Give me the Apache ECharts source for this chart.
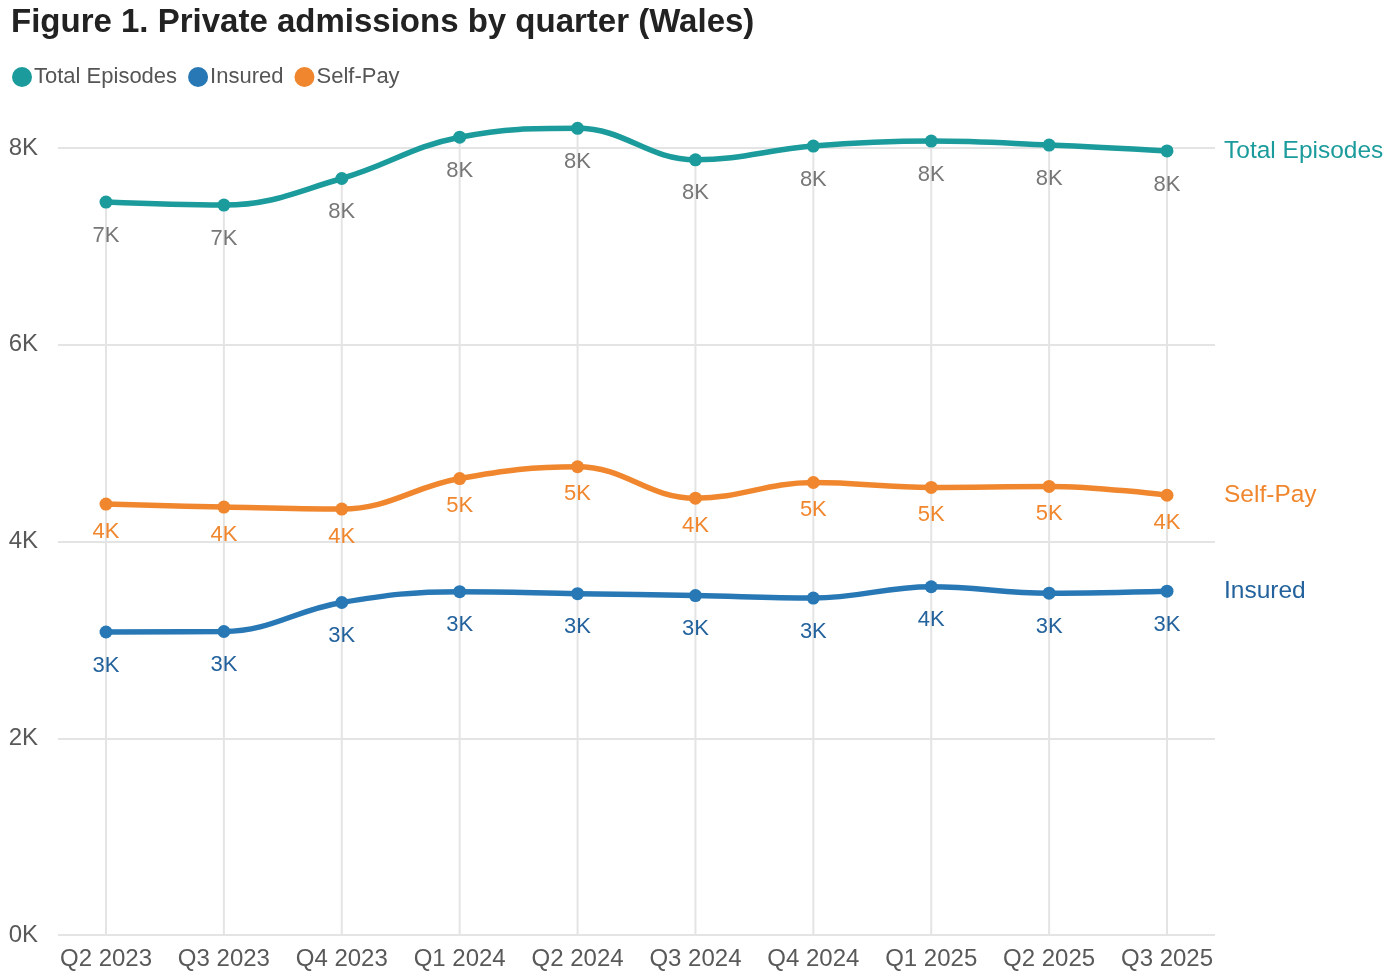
<!DOCTYPE html>
<html>
<head>
<meta charset="utf-8">
<script src="https://cdn.jsdelivr.net/npm/echarts@6/dist/echarts.min.js"></script>
<style>
html,body{margin:0;padding:0;background:#fff;}
#chart{width:1390px;height:978px;}
</style>
</head>
<body>
<div id="chart"></div>
<script>
const categories = ['Q2 2023','Q3 2023','Q4 2023','Q1 2024','Q2 2024','Q3 2024','Q4 2024','Q1 2025','Q2 2025','Q3 2025'];
const totalEpisodes = [7450, 7420, 7690, 8110, 8200, 7880, 8020, 8070, 8030, 7970];
const insured = [3080, 3085, 3380, 3490, 3470, 3450, 3425, 3540, 3475, 3495];
const selfPay = [4380, 4350, 4330, 4640, 4760, 4440, 4600, 4550, 4560, 4470];
const yTicks = [0, 2000, 4000, 6000, 8000];

const FONT = 'Liberation Sans, Arial, sans-serif';
const C_TOTAL = '#1b9b9b';
const C_INS = '#2878b5';
const C_SELF = '#f0872e';

const chart = echarts.init(document.getElementById('chart'), null, {renderer: 'canvas'});

function kLabel(v){ return Math.round(v/1000) + 'K'; }

function lineSeries(name, data, color, labelColor, endColor, labelDist){
  return {
    name: name,
    type: 'line',
    xAxisIndex: 0, yAxisIndex: 0,
    data: data,
    smooth: 0.4,
    clip: false,
    symbol: 'circle',
    symbolSize: 13,
    z: 5,
    lineStyle: {width: 5.5, color: color},
    itemStyle: {color: color},
    label: {
      show: true, position: 'bottom', distance: labelDist,
      color: labelColor, fontSize: 22, fontFamily: FONT,
      formatter: p => kLabel(p.value)
    },
    endLabel: {
      show: true, distance: 57, color: endColor,
      fontSize: 24.5, fontFamily: FONT,
      formatter: p => p.seriesName
    },
    emphasis: {disabled: true}
  };
}

const option = {
  animation: false,
  backgroundColor: '#fff',
  textStyle: {fontFamily: FONT},
  title: {
    text: 'Figure 1. Private admissions by quarter (Wales)',
    left: 6, top: 1,
    textStyle: {fontSize: 33, fontWeight: 'bold', color: '#222222', fontFamily: FONT}
  },
  legend: {
    data: ['Total Episodes','Insured','Self-Pay'],
    left: 7, top: 61,
    icon: 'circle', itemWidth: 20, itemHeight: 20, itemGap: 11,
    textStyle: {fontSize: 22, color: '#555555', fontFamily: FONT, padding: [0,0,0,-3]}
  },
  grid: [
    {left: 106, right: 223, top: 148, bottom: 43, containLabel: false},
    {left: 58, right: 175, top: 148, bottom: 43, containLabel: false}
  ],
  xAxis: [
    {
      type: 'category', gridIndex: 0, data: categories, boundaryGap: false,
      axisLine: {show: false}, axisTick: {show: false},
      axisLabel: {fontSize: 24, color: '#595959', margin: 12, fontFamily: FONT, interval: 0},
      splitLine: {show: false}
    },
    {
      type: 'category', gridIndex: 1, data: categories, show: false
    }
  ],
  yAxis: [
    {
      type: 'value', gridIndex: 0, min: 0, max: 8000, interval: 2000,
      axisLabel: {show: false}, axisLine: {show: false}, axisTick: {show: false},
      splitLine: {show: false}
    },
    {
      type: 'value', gridIndex: 1, min: 0, max: 8000, interval: 2000,
      axisLine: {show: false}, axisTick: {show: false},
      axisLabel: {fontSize: 24, color: '#595959', margin: 20, fontFamily: FONT,
        formatter: v => (v/1000) + 'K'},
      splitLine: {show: true, lineStyle: {color: '#e4e4e4', width: 2}}
    }
  ],
  series: [
    {
      name: 'drop',
      type: 'bar',
      xAxisIndex: 0, yAxisIndex: 0,
      data: totalEpisodes,
      barWidth: 2,
      clip: false,
      silent: true,
      z: 1,
      itemStyle: {color: '#e4e4e4'},
      emphasis: {disabled: true}
    },
    lineSeries('Total Episodes', totalEpisodes, C_TOTAL, '#777777', C_TOTAL, 16),
    lineSeries('Insured', insured, C_INS, '#23629c', '#23629c', 16),
    lineSeries('Self-Pay', selfPay, C_SELF, '#f0872e', '#f0872e', 10)
  ]
};
chart.setOption(option);
</script>
</body>
</html>
